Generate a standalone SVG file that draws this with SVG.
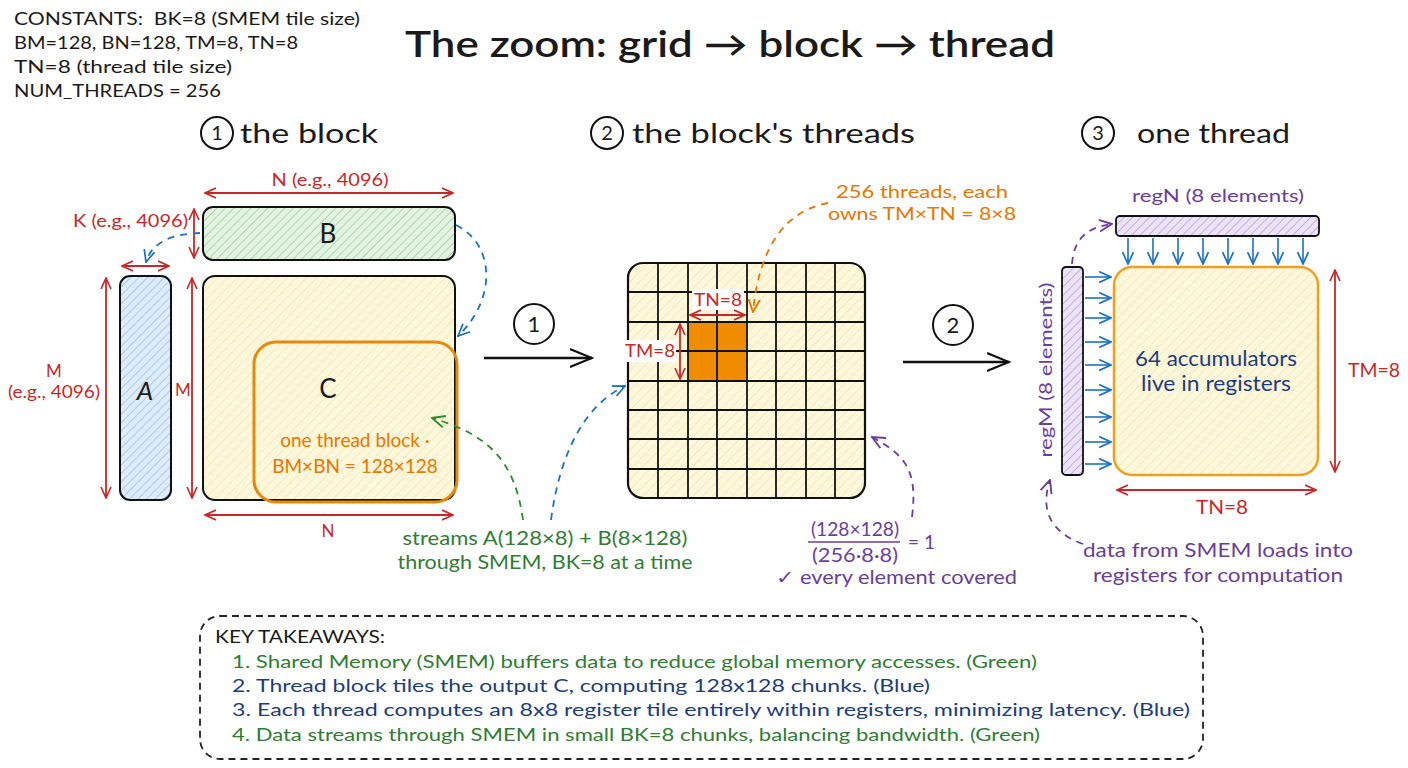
<svg xmlns="http://www.w3.org/2000/svg" width="1408" height="768" viewBox="0 0 1408 768">
<style>
text{font-family:Lato,"Liberation Sans",sans-serif}
.k{fill:#1a1a1a}
.red{fill:#c62828}
.or{fill:#e67700}
.pu{fill:#6a3d9a}
.gr{fill:#2e7d32}
.bl{fill:#1c3d7a}
.mid{text-anchor:middle}
.rl{stroke:#c62828;stroke-width:1.8;fill:none;marker-start:url(#mr);marker-end:url(#mr)}
.bd{stroke:#1971c2;stroke-width:1.8;fill:none;stroke-dasharray:7 6;marker-end:url(#mb)}
.gd{stroke:#2e8b2e;stroke-width:1.8;fill:none;stroke-dasharray:7 6;marker-end:url(#mg)}
.od{stroke:#e67700;stroke-width:1.8;fill:none;stroke-dasharray:7 6;marker-end:url(#mo)}
.pd{stroke:#6a3d9a;stroke-width:1.8;fill:none;stroke-dasharray:7 6;marker-end:url(#mp)}
.ba{stroke:#1971c2;stroke-width:1.6;fill:none;marker-end:url(#mb)}
.big{stroke:#111;stroke-width:2.5;fill:none;marker-end:url(#mk)}
.gl{stroke:#111;stroke-width:1.8}
.circ{fill:none;stroke:#111;stroke-width:2}
</style>
<defs>
<pattern id="hg" patternUnits="userSpaceOnUse" width="6" height="6" patternTransform="rotate(45)"><rect width="6" height="6" fill="#e3f2e1"/><line x1="0" y1="0" x2="0" y2="6" stroke="#9fd19b" stroke-width="1.6"/></pattern>
<pattern id="hb" patternUnits="userSpaceOnUse" width="6" height="6" patternTransform="rotate(45)"><rect width="6" height="6" fill="#deebf8"/><line x1="0" y1="0" x2="0" y2="6" stroke="#9cc3e8" stroke-width="1.6"/></pattern>
<pattern id="hy" patternUnits="userSpaceOnUse" width="7" height="7" patternTransform="rotate(45)"><rect width="7" height="7" fill="#fdf7dc"/><line x1="0" y1="0" x2="0" y2="7" stroke="#f3e6b0" stroke-width="1.5"/></pattern>
<pattern id="hp" patternUnits="userSpaceOnUse" width="6" height="6" patternTransform="rotate(45)"><rect width="6" height="6" fill="#ece3f6"/><line x1="0" y1="0" x2="0" y2="6" stroke="#b9a2dc" stroke-width="1.6"/></pattern>
<marker id="mr" viewBox="0 0 12 12" refX="11" refY="6" markerWidth="12" markerHeight="12" markerUnits="userSpaceOnUse" orient="auto-start-reverse"><path d="M0,1 L11,6 L0,11" fill="none" stroke="#c62828" stroke-width="1.6"/></marker>
<marker id="mb" viewBox="0 0 12 12" refX="11" refY="6" markerWidth="13" markerHeight="13" markerUnits="userSpaceOnUse" orient="auto"><path d="M0,1 L11,6 L0,11" fill="none" stroke="#1971c2" stroke-width="1.6"/></marker>
<marker id="mg" viewBox="0 0 12 12" refX="11" refY="6" markerWidth="14" markerHeight="14" markerUnits="userSpaceOnUse" orient="auto"><path d="M0,1 L11,6 L0,11" fill="none" stroke="#2e8b2e" stroke-width="1.6"/></marker>
<marker id="mo" viewBox="0 0 12 12" refX="11" refY="6" markerWidth="14" markerHeight="14" markerUnits="userSpaceOnUse" orient="auto"><path d="M0,1 L11,6 L0,11" fill="none" stroke="#e67700" stroke-width="1.6"/></marker>
<marker id="mp" viewBox="0 0 12 12" refX="11" refY="6" markerWidth="14" markerHeight="14" markerUnits="userSpaceOnUse" orient="auto"><path d="M0,1 L11,6 L0,11" fill="none" stroke="#6a3d9a" stroke-width="1.6"/></marker>
<marker id="mk" viewBox="0 0 12 12" refX="11" refY="6" markerWidth="24" markerHeight="24" markerUnits="userSpaceOnUse" orient="auto"><path d="M0,1.5 L11,6 L0,10.5" fill="none" stroke="#111" stroke-width="1.1"/></marker>
</defs>
<rect width="1408" height="768" fill="#ffffff"/>

<g id="constants" class="k" font-size="17">
<text x="14" y="25" xml:space="preserve" textLength="346" lengthAdjust="spacingAndGlyphs">CONSTANTS:  BK=8 (SMEM tile size)</text>
<text x="14" y="49" textLength="284" lengthAdjust="spacingAndGlyphs">BM=128, BN=128, TM=8, TN=8</text>
<text x="14" y="73" textLength="218" lengthAdjust="spacingAndGlyphs">TN=8 (thread tile size)</text>
<text x="14" y="97" textLength="207" lengthAdjust="spacingAndGlyphs">NUM_THREADS = 256</text>
</g>

<g id="title"><text x="405" y="57" font-size="36" font-weight="600" class="k" textLength="650" lengthAdjust="spacingAndGlyphs">The zoom: grid → block → thread</text></g>

<g id="headers">
<circle cx="217" cy="133" r="16" class="circ"/><text x="217" y="140" font-size="20" class="k mid">1</text>
<text x="240" y="143" font-size="26" class="k" textLength="138" lengthAdjust="spacingAndGlyphs">the block</text>
<circle cx="607" cy="133" r="16" class="circ"/><text x="607" y="140" font-size="20" class="k mid">2</text>
<text x="632" y="143" font-size="26" class="k" textLength="283" lengthAdjust="spacingAndGlyphs">the block's threads</text>
<circle cx="1098" cy="133" r="16" class="circ"/><text x="1098" y="140" font-size="20" class="k mid">3</text>
<text x="1137" y="143" font-size="26" class="k" textLength="153" lengthAdjust="spacingAndGlyphs">one thread</text>
</g>

<g id="matB">
<rect x="203" y="207" width="252" height="53" rx="10" fill="url(#hg)" stroke="#111" stroke-width="2"/>
<text x="328" y="243" font-size="26" class="k mid">B</text>
</g>
<g id="matA">
<rect x="120" y="276" width="51" height="224" rx="10" fill="url(#hb)" stroke="#111" stroke-width="2"/>
<text x="145" y="400" font-size="26" font-style="italic" class="k mid">A</text>
</g>
<g id="matC">
<rect x="203" y="276" width="252" height="224" rx="12" fill="url(#hy)" stroke="#111" stroke-width="2"/>
<text x="328" y="398" font-size="26" class="k mid">C</text>
</g>
<g id="threadBlock">
<rect x="254" y="342" width="203" height="160" rx="22" fill="none" stroke="#e8890c" stroke-width="3"/>
<text x="355" y="447" font-size="19" class="or mid">one thread block ·</text>
<text x="355" y="473" font-size="19" class="or mid">BM×BN = 128×128</text>
</g>

<g id="blockDims">
<text x="330" y="186" font-size="17" class="red mid" textLength="117" lengthAdjust="spacingAndGlyphs">N (e.g., 4096)</text>
<text x="188" y="227" font-size="17" class="red" text-anchor="end" textLength="115" lengthAdjust="spacingAndGlyphs">K (e.g., 4096)</text>
<text x="54" y="377" font-size="17" class="red mid">M</text>
<text x="54" y="398" font-size="17" class="red mid" textLength="92" lengthAdjust="spacingAndGlyphs">(e.g., 4096)</text>
<text x="183" y="396" font-size="17" class="red mid">M</text>
<text x="328" y="537" font-size="17" class="red mid">N</text>
</g>

<g id="grid">
<rect x="628" y="263" width="237" height="235" rx="15" fill="url(#hy)"/>
<rect x="688" y="322" width="59" height="59" fill="#f08c00"/>
<g class="gl">
<line x1="658" y1="263" x2="658" y2="498"/><line x1="688" y1="263" x2="688" y2="498"/><line x1="717" y1="263" x2="717" y2="498"/><line x1="747" y1="263" x2="747" y2="498"/><line x1="776" y1="263" x2="776" y2="498"/><line x1="806" y1="263" x2="806" y2="498"/><line x1="835" y1="263" x2="835" y2="498"/>
<line x1="628" y1="292" x2="865" y2="292"/><line x1="628" y1="322" x2="865" y2="322"/><line x1="628" y1="351" x2="865" y2="351"/><line x1="628" y1="381" x2="865" y2="381"/><line x1="628" y1="410" x2="865" y2="410"/><line x1="628" y1="439" x2="865" y2="439"/><line x1="628" y1="469" x2="865" y2="469"/>
</g>
<rect x="628" y="263" width="237" height="235" rx="15" fill="none" stroke="#111" stroke-width="2.2"/>
<rect x="692" y="289" width="52" height="21" fill="#fff"/>
<text x="718" y="306" font-size="17" class="red mid" textLength="48" lengthAdjust="spacingAndGlyphs">TN=8</text>
<rect x="624" y="340" width="52" height="22" fill="#fff"/>
<text x="650" y="357" font-size="17" class="red mid" textLength="50" lengthAdjust="spacingAndGlyphs">TM=8</text>
</g>

<g id="threadNote">
<text x="922" y="198" font-size="18" class="or mid" textLength="172" lengthAdjust="spacingAndGlyphs">256 threads, each</text>
<text x="922" y="220" font-size="18" class="or mid" textLength="188" lengthAdjust="spacingAndGlyphs">owns TM×TN = 8×8</text>
</g>

<g id="coverage">
<text x="855" y="536" font-size="19" class="pu mid" textLength="88" lengthAdjust="spacingAndGlyphs">(128×128)</text>
<line x1="808" y1="542" x2="900" y2="542" stroke="#6a3d9a" stroke-width="1.5"/>
<text x="855" y="562" font-size="19" class="pu mid" textLength="86" lengthAdjust="spacingAndGlyphs">(256·8·8)</text>
<text x="908" y="549" font-size="19" class="pu">= 1</text>
<text x="776" y="584" font-size="19" class="pu" textLength="241" lengthAdjust="spacingAndGlyphs">✓ every element covered</text>
</g>

<g id="streamNote">
<text x="545" y="545" font-size="19" class="gr mid" textLength="285" lengthAdjust="spacingAndGlyphs">streams A(128×8) + B(8×128)</text>
<text x="545" y="569" font-size="19" class="gr mid" textLength="295" lengthAdjust="spacingAndGlyphs">through SMEM, BK=8 at a time</text>
</g>

<g id="regN">
<rect x="1116" y="216" width="203" height="20" rx="4" fill="url(#hp)" stroke="#111" stroke-width="1.8"/>
<text x="1218" y="202" font-size="18" class="pu mid" textLength="172" lengthAdjust="spacingAndGlyphs">regN (8 elements)</text>
</g>
<g id="regM">
<rect x="1062" y="267" width="21" height="208" rx="4" fill="url(#hp)" stroke="#111" stroke-width="1.8"/>
<text x="0" y="0" font-size="18" class="pu mid" transform="translate(1052,370) rotate(-90)" textLength="175" lengthAdjust="spacingAndGlyphs">regM (8 elements)</text>
</g>
<g id="accum">
<rect x="1114" y="267" width="204" height="208" rx="18" fill="url(#hy)" stroke="#f0a020" stroke-width="2.5"/>
<text x="1216" y="366" font-size="21" class="bl mid" textLength="162" lengthAdjust="spacingAndGlyphs">64 accumulators</text>
<text x="1216" y="391" font-size="21" class="bl mid" textLength="150" lengthAdjust="spacingAndGlyphs">live in registers</text>
</g>
<g id="threadDims">
<text x="1348" y="377" font-size="19" class="red" textLength="52" lengthAdjust="spacingAndGlyphs">TM=8</text>
<text x="1222" y="514" font-size="19" class="red mid" textLength="52" lengthAdjust="spacingAndGlyphs">TN=8</text>
</g>
<g id="loadNote">
<text x="1218" y="557" font-size="19" class="pu mid" textLength="270" lengthAdjust="spacingAndGlyphs">data from SMEM loads into</text>
<text x="1218" y="582" font-size="19" class="pu mid" textLength="250" lengthAdjust="spacingAndGlyphs">registers for computation</text>
</g>

<g id="steps">
<circle cx="534" cy="324" r="20" class="circ"/><text x="534" y="332" font-size="22" class="k mid">1</text>
<circle cx="953" cy="325" r="20" class="circ"/><text x="953" y="333" font-size="22" class="k mid">2</text>
</g>

<g id="connectors">
<line x1="205" y1="193" x2="453" y2="193" class="rl"/>
<line x1="194" y1="209" x2="194" y2="258" class="rl"/>
<line x1="122" y1="266" x2="169" y2="266" class="rl"/>
<line x1="106" y1="278" x2="106" y2="498" class="rl"/>
<line x1="192" y1="278" x2="192" y2="498" class="rl"/>
<line x1="205" y1="515" x2="453" y2="515" class="rl"/>
<line x1="690" y1="315" x2="745" y2="315" class="rl"/>
<line x1="680" y1="324" x2="680" y2="379" class="rl"/>
<line x1="1335" y1="270" x2="1335" y2="472" class="rl"/>
<line x1="1117" y1="490" x2="1316" y2="490" class="rl"/>
<path d="M200,233 C172,234 152,242 146,262" class="bd"/>
<path d="M456,225 C496,245 496,300 458,336" class="bd"/>
<path d="M551,520 C560,452 585,405 625,386" class="bd"/>
<path d="M523,520 C515,462 490,435 432,418" class="gd"/>
<path d="M828,203 C790,210 760,240 753,312" class="od"/>
<path d="M912,517 C918,470 905,455 872,437" class="pd"/>
<path d="M1072,264 C1074,236 1090,227 1112,224" class="pd"/>
<path d="M1083,544 C1050,532 1040,510 1050,480" class="pd"/>
<line x1="484" y1="358" x2="592" y2="358" class="big"/>
<line x1="903" y1="362" x2="1009" y2="362" class="big"/>
<g>
<line x1="1128" y1="238" x2="1128" y2="264" class="ba"/><line x1="1153" y1="238" x2="1153" y2="264" class="ba"/><line x1="1178" y1="238" x2="1178" y2="264" class="ba"/><line x1="1203" y1="238" x2="1203" y2="264" class="ba"/><line x1="1228" y1="238" x2="1228" y2="264" class="ba"/><line x1="1253" y1="238" x2="1253" y2="264" class="ba"/><line x1="1278" y1="238" x2="1278" y2="264" class="ba"/><line x1="1303" y1="238" x2="1303" y2="264" class="ba"/>
</g>
<g>
<line x1="1085" y1="277" x2="1111" y2="277" class="ba"/><line x1="1085" y1="298" x2="1111" y2="298" class="ba"/><line x1="1085" y1="318" x2="1111" y2="318" class="ba"/><line x1="1085" y1="342" x2="1111" y2="342" class="ba"/><line x1="1085" y1="365" x2="1111" y2="365" class="ba"/><line x1="1085" y1="390" x2="1111" y2="390" class="ba"/><line x1="1085" y1="417" x2="1111" y2="417" class="ba"/><line x1="1085" y1="442" x2="1111" y2="442" class="ba"/><line x1="1085" y1="464" x2="1111" y2="464" class="ba"/>
</g>
</g>

<g id="takeaways">
<rect x="200" y="616" width="1003" height="143" rx="20" fill="none" stroke="#222" stroke-width="1.8" stroke-dasharray="7 5"/>
<text x="215" y="643" font-size="17" class="k" textLength="170" lengthAdjust="spacingAndGlyphs">KEY TAKEAWAYS:</text>
<text x="232" y="668" font-size="18" class="gr" textLength="805" lengthAdjust="spacingAndGlyphs">1. Shared Memory (SMEM) buffers data to reduce global memory accesses. (Green)</text>
<text x="232" y="692" font-size="18" class="bl" textLength="698" lengthAdjust="spacingAndGlyphs">2. Thread block tiles the output C, computing 128x128 chunks. (Blue)</text>
<text x="232" y="716" font-size="18" class="bl" textLength="958" lengthAdjust="spacingAndGlyphs">3. Each thread computes an 8x8 register tile entirely within registers, minimizing latency. (Blue)</text>
<text x="232" y="741" font-size="18" class="gr" textLength="808" lengthAdjust="spacingAndGlyphs">4. Data streams through SMEM in small BK=8 chunks, balancing bandwidth. (Green)</text>
</g>
</svg>
